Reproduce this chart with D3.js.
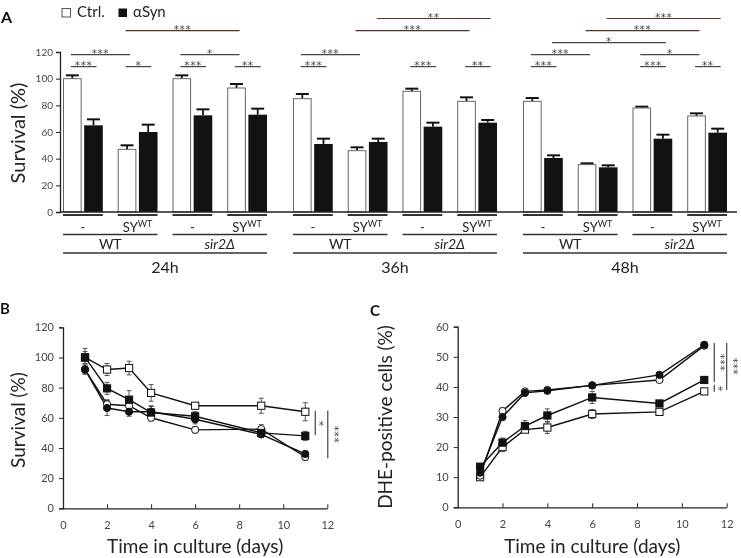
<!DOCTYPE html>
<html><head><meta charset="utf-8">
<script src="https://cdn.jsdelivr.net/npm/d3@7"></script>
<style>
body{margin:0;background:#fff}
svg{display:block;will-change:transform}
text{font-family:Lato,"Open Sans",sans-serif;-webkit-font-smoothing:antialiased}
text.star{font-family:"DejaVu Sans",sans-serif}
</style>
</head><body>
<svg id="c" width="741" height="558"></svg>
<script>
// ---------- Panel A data ----------
const timepoints = ["24h","36h","48h"];
const strains = ["WT","sir2Δ"];
const treatments = ["-","SY"];
const seriesA = ["Ctrl.","αSyn"];
const ctrlMean = [100,47,100,93, 85,46,90.5,83, 83,35.5,78,72];
const ctrlErr  = [2.5,3,2.5,3, 3.5,2.5,2,3, 2.5,1,1,2];
const asynMean = [65,60,72.5,73, 51,52.5,64,67, 40.5,33.5,55,59.5];
const asynErr  = [4.5,5.5,4.5,4.5, 4,2.5,3,2, 2,1.5,3,3];
const yTicksA = [0,20,40,60,80,100,120];
// [fromGroup, fromSeries, toGroup, toSeries, level, label]
const sigA = [
  [0,0,0,1,1,"***"],[0,0,1,0,2,"***"],[1,0,1,1,1,"*"],[1,0,3,0,4,"***"],
  [2,0,2,1,1,"***"],[2,0,3,0,2,"*"],[3,0,3,1,1,"**"],
  [4,0,4,1,1,"***"],[4,0,5,0,2,"***"],[5,0,7,0,4,"***"],[5,1,7,1,5,"**"],
  [6,0,6,1,1,"***"],[7,0,7,1,1,"**"],
  [8,0,8,1,1,"***"],[8,0,9,0,2,"***"],[8,1,10,1,3,"*"],[9,0,11,0,4,"***"],
  [9,1,11,1,5,"***"],[10,0,11,0,2,"*"],[10,0,10,1,1,"***"],[11,0,11,1,1,"**"]
];

// ---------- Panel B / C data ----------
const days = [1,2,3,4,6,9,11];
const xTicksBC = [0,2,4,6,8,10,12];
const yTicksB = [0,20,40,60,80,100,120];
const yTicksC = [0,10,20,30,40,50,60];
const B_openSq    = [100,92,93,76.5,68,68,64];
const B_openSqErr = [6,4,4.5,5.5,2,5,6];
const B_fillSq    = [100,79.5,72,63.5,61,50,48];
const B_fillSqErr = [4,4,6,4,3,2,3];
const B_openCi    = [92,69,68,60,52,52.5,34];
const B_openCiErr = [3,3,2,2,2,3,2];
const B_fillCi    = [92,66.5,64,64,59,49,36];
const B_fillCiErr = [3,5,3,4,3,2,2];
const C_fillCi    = [11.5,30,38,38.7,40.5,44,54];
const C_fillCiErr = [1,1,0.7,0.7,0.8,0.8,0.8];
const C_openCi    = [10.5,32,38.5,39,40.5,42.3,53.7];
const C_openCiErr = [1,1,0.7,0.7,0.8,0.8,0.8];
const C_fillSq    = [13.5,21.5,27,30.5,36.5,34.5,42.3];
const C_fillSqErr = [1,1.5,1.8,2.2,2,1,1];
const C_openSq    = [10,20,25.8,26.5,31,31.7,38.5];
const C_openSqErr = [1,1.5,1,2,1.5,1,1];
// [fromValue, toValue, label]
const sigB = [[64.7,48.6,"*"],[64.7,33.2,"***"]];
const sigC = [[54.6,41.6,"***"],[40.7,38.4,"*"],[54.6,39,"***"]];

const svg = d3.select("#c");
const ink = "#111";

// ================= PANEL A =================
const groupKeys = [];
strains.forEach(s => treatments.forEach(t => groupKeys.push(s+"|"+t)));
const xBlock = d3.scaleBand().domain(timepoints).range([63,727]).paddingInner(0.113);
const xGroup = d3.scaleBand().domain(groupKeys).range([0,xBlock.bandwidth()]).paddingInner(0.273);
const xBar = d3.scaleBand().domain(seriesA).range([0,xGroup.bandwidth()]).paddingInner(0.12);
const yA = d3.scaleLinear().domain([0,120]).range([212,52]);
const groupX = i => xBlock(timepoints[Math.floor(i/4)]) + xGroup(groupKeys[i%4]);
const barCx = (i,s) => groupX(i) + xBar(seriesA[s]) + xBar.bandwidth()/2;

const A = svg.append("g");
const barData = [];
ctrlMean.forEach((v,i) => barData.push({g:i,s:0,v:v,e:ctrlErr[i]}));
asynMean.forEach((v,i) => barData.push({g:i,s:1,v:v,e:asynErr[i]}));

// error bars
A.selectAll(".eb").data(barData).join("g").each(function(d){
  const g = d3.select(this), cx = barCx(d.g,d.s);
  g.append("line").attr("x1",cx).attr("x2",cx).attr("y1",yA(d.v)).attr("y2",yA(d.v+d.e))
    .attr("stroke",ink).attr("stroke-width",1.8);
  g.append("line").attr("x1",cx-6.5).attr("x2",cx+6.5).attr("y1",yA(d.v+d.e)).attr("y2",yA(d.v+d.e))
    .attr("stroke",ink).attr("stroke-width",2);
});
A.selectAll(".bar").data(barData).join("rect")
  .attr("x",d => groupX(d.g)+xBar(seriesA[d.s]) + (d.s===0?0.5:0))
  .attr("y",d => yA(d.v))
  .attr("width",d => xBar.bandwidth() - (d.s===0?1:0))
  .attr("height",d => yA(0)-yA(d.v))
  .attr("fill",d => d.s===0 ? "#fff" : "#121212")
  .attr("stroke",d => d.s===0 ? "#666" : "none")
  .attr("stroke-width",1);

// axes
const yAxA = A.append("g").attr("transform","translate(60,0)")
  .call(d3.axisLeft(yA).tickValues(yTicksA).tickSize(4).tickPadding(3));
yAxA.select(".domain").attr("stroke","#222").attr("stroke-width",1.3);
yAxA.selectAll(".tick line").attr("stroke","#222");
yAxA.selectAll("text").attr("font-size",10).attr("fill","#444");
A.append("line").attr("x1",60).attr("x2",737).attr("y1",yA(0)).attr("y2",yA(0))
  .attr("stroke","#222").attr("stroke-width",1.3);

A.append("text").attr("transform","translate(25,133) rotate(-90)").attr("text-anchor","middle")
  .attr("font-size",20).attr("fill","#222").text("Survival (%)");
A.append("text").attr("x",1).attr("y",23).attr("font-size",16).attr("font-weight","bold").attr("fill","#111").text("A");

// legend
A.append("rect").attr("x",62).attr("y",8.5).attr("width",8.5).attr("height",8.5).attr("fill","#fff").attr("stroke","#555");
A.append("text").attr("x",77).attr("y",17).attr("font-size",15).attr("fill","#222").text(seriesA[0]);
A.append("rect").attr("x",118.5).attr("y",8.5).attr("width",8.5).attr("height",8.5).attr("fill","#111");
A.append("text").attr("x",133).attr("y",17).attr("font-size",15).attr("fill","#222").text(seriesA[1]);

// significance brackets
const levelY = d3.scaleLinear().domain([1,5]).range([66.6,18.5]);
sigA.forEach(([g1,s1,g2,s2,lv,lab]) => {
  const x1 = barCx(g1,s1)-1.5, x2 = barCx(g2,s2)+3, y = levelY(lv);
  A.append("line").attr("x1",x1).attr("x2",x2).attr("y1",y).attr("y2",y)
    .attr("stroke", lv>=4 ? "#4a3530" : "#444").attr("stroke-width",1.2);
  A.append("text").attr("class","star").attr("x",(x1+x2)/2).attr("y",y+2.8).attr("text-anchor","middle")
    .attr("font-size",10.5).attr("letter-spacing",0.6).attr("fill","#444").text(lab);
});

// category labels
d3.range(12).forEach(i => {
  const x0 = groupX(i), w = xGroup.bandwidth();
  A.append("line").attr("x1",x0).attr("x2",x0+w).attr("y1",215).attr("y2",215).attr("stroke","#333").attr("stroke-width",1.8);
  const t = A.append("text").attr("x",x0+w/2).attr("y",232).attr("text-anchor","middle").attr("font-size",13).attr("fill","#222");
  const tr = treatments[i%2];
  if (tr === "-") t.text("-");
  else { t.append("tspan").text("SY"); t.append("tspan").attr("font-size",9).attr("dy",-5).text("WT"); }
});
timepoints.forEach((tp,b) => {
  strains.forEach((st,k) => {
    const gi = b*4 + k*2;
    const x0 = groupX(gi), x1 = groupX(gi+1)+xGroup.bandwidth();
    A.append("line").attr("x1",x0).attr("x2",x1).attr("y1",234.5).attr("y2",234.5).attr("stroke","#333").attr("stroke-width",1.5);
    A.append("text").attr("x",(x0+x1)/2).attr("y",249).attr("text-anchor","middle").attr("font-size",14)
      .attr("font-style",st==="WT"?"normal":"italic").attr("fill","#222").text(st);
  });
  const x0 = xBlock(tp), x1 = x0 + xBlock.bandwidth();
  A.append("line").attr("x1",x0).attr("x2",x1).attr("y1",253).attr("y2",253).attr("stroke","#333").attr("stroke-width",1.5);
  A.append("text").attr("x",(x0+x1)/2).attr("y",273).attr("text-anchor","middle").attr("font-size",16).attr("fill","#222").text(tp);
});

// ================= PANELS B & C =================
function linePanel(opts){
  const P = svg.append("g");
  const x = d3.scaleLinear().domain([0,12]).range(opts.xr);
  const y = d3.scaleLinear().domain(opts.yd).range(opts.yr);
  const yAx = P.append("g").attr("transform",`translate(${opts.xr[0]},0)`)
    .call(d3.axisLeft(y).tickValues(opts.yTicks).tickSize(4).tickPadding(5));
  const xAx = P.append("g").attr("transform",`translate(0,${opts.yr[0]})`)
    .call(d3.axisBottom(x).tickValues(xTicksBC).tickSizeInner(-4).tickSizeOuter(0).tickPadding(13));
  [yAx,xAx].forEach(a => {
    a.select(".domain").attr("stroke","#222").attr("stroke-width",1.3);
    a.selectAll(".tick line").attr("stroke","#222");
    a.selectAll("text").attr("font-size",opts.tickFs).attr("fill","#444");
  });
  xAx.selectAll(".tick").filter(d => d===0).select("line").remove();
  P.append("text").attr("x",(opts.xr[0]+opts.xr[1])/2).attr("y",553).attr("text-anchor","middle")
    .attr("font-size",19).attr("fill","#222").text("Time in culture (days)");
  P.append("text").attr("transform",`translate(${opts.ylx},${opts.yly}) rotate(-90)`).attr("text-anchor","middle")
    .attr("font-size",opts.ylFs).attr("fill","#222").text(opts.ylabel);
  P.append("text").attr("x",opts.lx).attr("y",opts.ly).attr("font-size",15).attr("font-weight","bold").attr("fill","#111").text(opts.letter);

  const line = d3.line().x((d,i) => x(days[i])).y(d => y(d));
  opts.series.forEach(s => {
    P.append("path").attr("d",line(s.v)).attr("fill","none").attr("stroke",ink).attr("stroke-width",1.4);
  });
  opts.series.forEach(s => {
    s.v.forEach((v,i) => {
      const cx = x(days[i]);
      P.append("line").attr("x1",cx).attr("x2",cx).attr("y1",y(v-s.e[i])).attr("y2",y(v+s.e[i])).attr("stroke","#555").attr("stroke-width",1);
      [v-s.e[i], v+s.e[i]].forEach(w => P.append("line").attr("x1",cx-2.5).attr("x2",cx+2.5).attr("y1",y(w)).attr("y2",y(w)).attr("stroke","#555").attr("stroke-width",1));
    });
  });
  opts.series.forEach(s => {
    s.v.forEach((v,i) => {
      const cx = x(days[i]), cy = y(v);
      if (s.shape === "sq") P.append("rect").attr("x",cx-3.6).attr("y",cy-3.6).attr("width",7.2).attr("height",7.2)
        .attr("fill",s.fill).attr("stroke",ink).attr("stroke-width",1);
      else P.append("circle").attr("cx",cx).attr("cy",cy).attr("r",3.6).attr("fill",s.fill).attr("stroke",ink).attr("stroke-width",1);
    });
  });
  // significance
  opts.sig.forEach(([a,b,lab],k) => {
    const lx = x(11) + opts.sigOff[k];
    P.append("line").attr("x1",lx).attr("x2",lx).attr("y1",y(a)).attr("y2",y(b)).attr("stroke","#444").attr("stroke-width",1.2);
    const my = (y(a)+y(b))/2;
    if (lab.length === 1) P.append("text").attr("class","star").attr("x",lx+6).attr("y",my+6).attr("text-anchor","middle").attr("font-size",10.5).attr("fill","#444").text(lab);
    else P.append("text").attr("class","star").attr("transform",`translate(${lx+3},${my}) rotate(90)`).attr("text-anchor","middle")
      .attr("font-size",10.5).attr("letter-spacing",0.6).attr("fill","#444").text(lab);
  });
}

linePanel({
  xr:[63,327.3], yd:[0,120], yr:[508.3,327.3], yTicks:yTicksB, tickFs:11,
  ylabel:"Survival (%)", ylx:25, yly:420, ylFs:19, letter:"B", lx:0, ly:314,
  series:[
    {v:B_openSq,e:B_openSqErr,shape:"sq",fill:"#fff"},
    {v:B_openCi,e:B_openCiErr,shape:"ci",fill:"#fff"},
    {v:B_fillSq,e:B_fillSqErr,shape:"sq",fill:ink},
    {v:B_fillCi,e:B_fillCiErr,shape:"ci",fill:ink}
  ],
  sig:sigB, sigOff:[10,22.5]
});
linePanel({
  xr:[457.7,726.7], yd:[0,60], yr:[507.3,326.7], yTicks:yTicksC, tickFs:11,
  ylabel:"DHE-positive cells (%)", ylx:392, yly:417, ylFs:19, letter:"C", lx:370, ly:316,
  series:[
    {v:C_openSq,e:C_openSqErr,shape:"sq",fill:"#fff"},
    {v:C_openCi,e:C_openCiErr,shape:"ci",fill:"#fff"},
    {v:C_fillSq,e:C_fillSqErr,shape:"sq",fill:ink},
    {v:C_fillCi,e:C_fillCiErr,shape:"ci",fill:ink}
  ],
  sig:sigC, sigOff:[10,10,22.4]
});
</script>
</body></html>
